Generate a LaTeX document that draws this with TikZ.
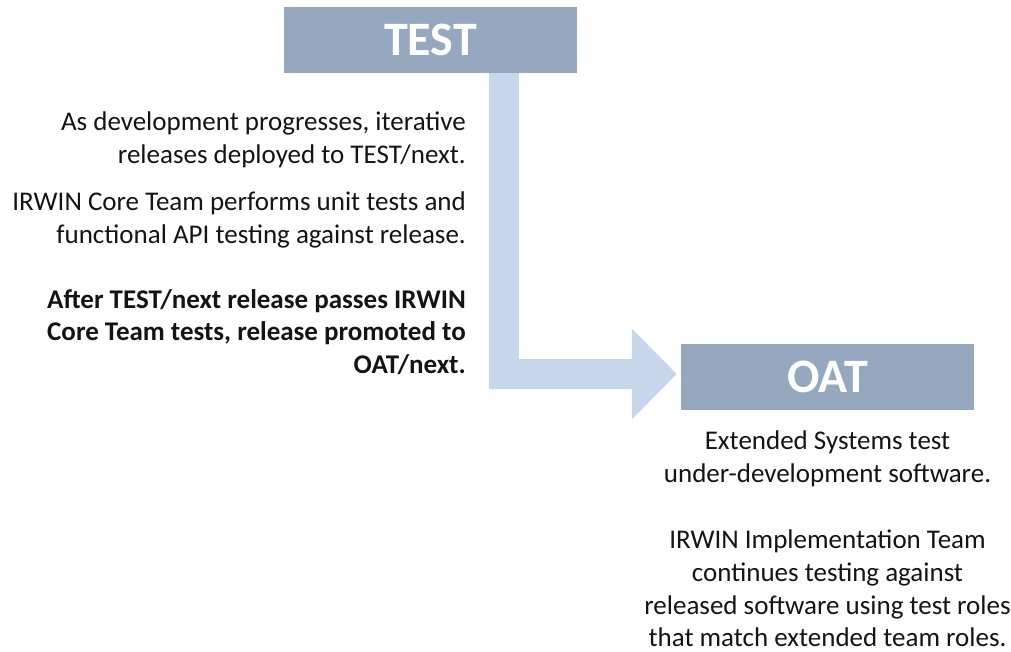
\documentclass[tikz,border=0pt]{standalone}
\usepackage{fontspec}
\setmainfont{Carlito}
\usetikzlibrary{arrows.meta}

\definecolor{stageblue}{HTML}{95A8C0}
\definecolor{flowblue}{HTML}{C6D6EB}

\begin{document}
\begin{tikzpicture}[
		x=1pt, y=-1pt,
		stage/.style={fill=stageblue, text=white, font=\fontsize{48}{50}\selectfont\bfseries, minimum width=293pt, minimum height=66pt, inner sep=0pt},
		note/.style={font=\fontsize{27}{32.6}\selectfont, inner sep=0pt, text=black!92},
		flow/.style={draw=flowblue, line width=30pt, -{Triangle[length=45pt,width=88pt]}}]
	\useasboundingbox (0,0) rectangle (1011,652);
	%% define stages
	\node (test) at (430.5,40) [stage] {\raisebox{-2pt}{TEST}};
	\node (oat) at (827.5,377) [stage] {\raisebox{-2pt}{OAT}};
	%% define arrow
	\draw[flow] ([xshift=73.5pt]test.south) |- ([xshift=-4pt,yshift=3pt]oat.west);
	%% define notes
	\node (n1) at (466,112) [note, anchor=north east, align=right] {As development progresses, iterative\\releases deployed to TEST/next.};
	\node (n2) at (466,192) [note, anchor=north east, align=right] {IRWIN Core Team performs unit tests and\\functional API testing against release.};
	\node (n3) at (466,289) [note, anchor=north east, align=right, font=\fontsize{27}{32.6}\selectfont\bfseries] {After TEST/next release passes IRWIN\\Core Team tests, release promoted to\\OAT/next.};
	\node (n4) at (827.5,431) [note, anchor=north, align=center] {Extended Systems test\\under-development software.};
	\node (n5) at (827.5,530) [note, anchor=north, align=center] {IRWIN Implementation Team\\continues testing against\\released software using test roles\\that match extended team roles.};
\end{tikzpicture}
\end{document}
